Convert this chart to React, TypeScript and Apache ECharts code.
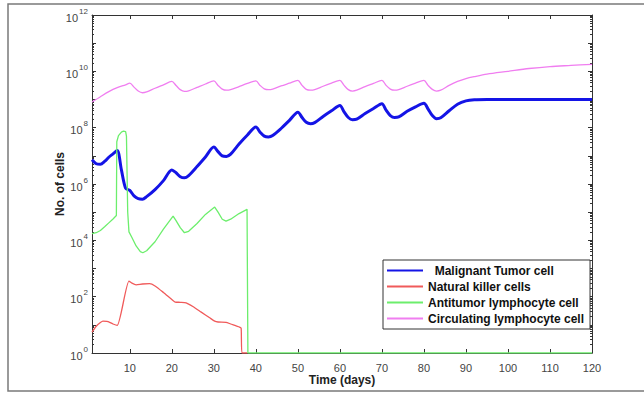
import React, { useEffect, useRef } from 'react';
import * as echarts from 'echarts';

// Series names
const tumorName = 'Malignant Tumor cell';
const nkName = 'Natural killer cells';
const lymphName = 'Antitumor lymphocyte cell';
const circName = 'Circulating lymphocyte cell';

// [day, log10(no. of cells)]
const tumorLog: [number, number][] = [
  [1, 6.86], [2, 6.72], [3, 6.7], [4, 6.8], [5, 6.95], [6, 7.07], [7, 7.19], [8, 6.5], [9, 5.85], [10, 5.77],
  [11, 5.58], [12, 5.48], [13, 5.46], [14, 5.55], [16, 5.8], [18, 6.12], [20, 6.5], [21, 6.4], [22, 6.26], [23, 6.22],
  [24, 6.3], [26, 6.62], [28, 6.96], [30, 7.31], [31, 7.15], [32, 7.0], [33, 6.98], [34, 7.06], [36, 7.42], [38, 7.74],
  [40, 8.02], [41, 7.84], [42, 7.7], [43, 7.67], [44, 7.72], [46, 7.97], [48, 8.26], [50, 8.55], [51, 8.36], [52, 8.19],
  [53, 8.14], [54, 8.18], [56, 8.4], [58, 8.6], [60, 8.79], [61, 8.56], [62, 8.36], [63, 8.28], [64, 8.3], [66, 8.5],
  [68, 8.68], [70, 8.85], [71, 8.62], [72, 8.43], [73, 8.36], [74, 8.38], [76, 8.58], [78, 8.74], [80, 8.87], [81, 8.66],
  [82, 8.43], [83, 8.32], [84, 8.35], [86, 8.6], [88, 8.83], [90, 8.95], [92, 8.99], [95, 9.0], [100, 9.0], [110, 9.0],
  [120, 9.0],
];

const nkLog: [number, number][] = [
  [1, 0.74], [2, 0.95], [3, 1.08], [3.6, 1.13], [4.5, 1.12], [5.2, 1.09], [6, 1.03], [7, 0.98], [9.8, 2.55], [10.5, 2.48],
  [11.5, 2.42], [13, 2.45], [14.7, 2.46], [16, 2.38], [18, 2.15], [20, 1.9], [20.8, 1.81], [22, 1.8], [23.4, 1.78], [25, 1.65],
  [27, 1.45], [29, 1.25], [30.2, 1.13], [31, 1.1], [32.9, 1.09], [34, 1.03], [36.1, 0.92], [36.5, 0.88], [36.7, 0], [38, 0],
];

const lymphLog: [number, number][] = [
  [1, 4.24], [2, 4.27], [3, 4.35], [4, 4.48], [5, 4.62], [6, 4.76], [6.8, 4.88], [6.9, 7.5], [7.3, 7.72], [8, 7.84],
  [8.5, 7.88], [9, 7.86], [9.2, 7.7], [9.5, 5.0], [9.8, 4.3], [10.5, 4.1], [11.5, 3.8], [12.5, 3.6], [13.1, 3.56], [14, 3.63],
  [16, 3.95], [18, 4.4], [20.3, 4.86], [21, 4.7], [22, 4.45], [23, 4.27], [24, 4.32], [26, 4.6], [28, 4.92], [30.2, 5.18],
  [31, 5.0], [32, 4.75], [32.9, 4.68], [34, 4.75], [36, 4.95], [37.9, 5.1], [38.1, 0], [120, 0],
];

const circLog: [number, number][] = [
  [1, 8.91], [3, 9.1], [5, 9.28], [7, 9.42], [9, 9.52], [10, 9.58], [11, 9.44], [12, 9.3], [13, 9.24], [14, 9.27],
  [16, 9.4], [18, 9.52], [20, 9.64], [21, 9.5], [22, 9.35], [23, 9.29], [24, 9.31], [26, 9.43], [28, 9.55], [30, 9.66],
  [31, 9.5], [32, 9.37], [33, 9.33], [34, 9.35], [36, 9.46], [38, 9.57], [40, 9.66], [41, 9.5], [42, 9.38], [43, 9.35],
  [44, 9.37], [46, 9.48], [48, 9.58], [50, 9.68], [51, 9.5], [52, 9.36], [53, 9.33], [54, 9.35], [56, 9.47], [58, 9.58],
  [60, 9.68], [61, 9.5], [62, 9.35], [63, 9.3], [64, 9.33], [66, 9.46], [68, 9.57], [70, 9.68], [71, 9.5], [72, 9.37],
  [73, 9.33], [74, 9.35], [76, 9.47], [78, 9.58], [80, 9.68], [81, 9.5], [82, 9.36], [83, 9.3], [84, 9.33], [86, 9.5],
  [88, 9.64], [90, 9.74], [92, 9.81], [95, 9.9], [100, 10.0], [105, 10.1], [110, 10.17], [115, 10.21], [120, 10.25],
];

// Axis ticks
const xTicks = [10, 20, 30, 40, 50, 60, 70, 80, 90, 100, 110, 120];
const yLabelExps = [0, 2, 4, 6, 8, 10, 12];
const yTickExps = [0, 1, 2, 3, 4, 5, 6, 7, 8, 9, 10, 11, 12];
const yMinorMultipliers = [2, 3, 4, 5, 6, 7, 8, 9];

const FONT = 'Liberation Sans, Arial, Helvetica, sans-serif';

export default function App() {
  const ref = useRef<HTMLDivElement>(null);

  useEffect(() => {
    if (!ref.current) return;
    const chart = echarts.init(ref.current, undefined, { renderer: 'svg' });
    const toPts = (arr: [number, number][]) => arr.map(([d, l]) => [d, Math.pow(10, l)]);
    const yLabelVals = yLabelExps.map((e) => Math.pow(10, e));
    const yTickVals = yTickExps.map((e) => Math.pow(10, e));
    const yMinorVals: number[] = [];
    for (let e = 0; e < 12; e++) {
      for (const m of yMinorMultipliers) yMinorVals.push(m * Math.pow(10, e));
    }
    const axisColor = '#333';
    const labelColor = '#444';

    const baseY = {
      type: 'log' as const,
      logBase: 10,
      min: 1,
      max: 1e12,
      gridIndex: 0,
      splitLine: { show: false },
    };

    const option: any = {
      animation: false,
      backgroundColor: '#fff',
      grid: { left: 92, right: 52, top: 15, bottom: 41, containLabel: false },
      graphic: [
        {
          type: 'rect',
          silent: true,
          z: -10,
          shape: { x: 8, y: 4, width: 660, height: 387 },
          style: { fill: 'none', stroke: '#7a7a7a', lineWidth: 1.5 },
        },
      ],
      legend: {
        orient: 'vertical',
        left: 383,
        top: 260,
        itemWidth: 36,
        itemHeight: 10,
        itemGap: 3,
        padding: [4, 6, 4, 3],
        borderColor: '#333',
        borderWidth: 1,
        borderRadius: 0,
        backgroundColor: '#fff',
        itemStyle: { opacity: 0 },
        formatter: (n: string) => (n === tumorName ? '  ' + n : n),
        textStyle: { fontSize: 12, fontWeight: 'bold', color: '#111', fontFamily: FONT, lineHeight: 13 },
        data: [tumorName, nkName, lymphName, circName],
      },
      xAxis: [
        {
          type: 'value',
          min: 1,
          max: 120,
          position: 'bottom',
          name: 'Time (days)',
          nameLocation: 'middle',
          nameGap: 21,
          nameMoveOverlap: false,
          nameTextStyle: { fontSize: 12, fontWeight: 'bold', color: '#222', fontFamily: FONT },
          axisLine: { show: true, onZero: false, lineStyle: { color: axisColor, width: 1 } },
          axisTick: { show: true, inside: true, length: 4, customValues: xTicks, lineStyle: { color: axisColor } },
          axisLabel: {
            show: true,
            customValues: xTicks,
            margin: 9,
            formatter: (v: number) => '{t|' + v + '}',
            rich: { t: { fontSize: 11, color: labelColor, fontFamily: FONT } },
            color: labelColor,
          },
          splitLine: { show: false },
        },
        {
          type: 'value',
          min: 1,
          max: 120,
          position: 'top',
          axisLine: { show: true, onZero: false, lineStyle: { color: axisColor, width: 1 } },
          axisTick: { show: true, inside: true, length: 4, customValues: xTicks, lineStyle: { color: axisColor } },
          axisLabel: { show: false },
          splitLine: { show: false },
        },
      ],
      yAxis: [
        {
          ...baseY,
          position: 'left',
          name: 'No. of cells',
          nameLocation: 'middle',
          nameGap: 26,
          nameMoveOverlap: false,
          nameTextStyle: { fontSize: 12, fontWeight: 'bold', color: '#222', fontFamily: FONT },
          axisLine: { show: true, lineStyle: { color: axisColor, width: 1 } },
          axisTick: { show: true, inside: true, length: 4, customValues: yTickVals, lineStyle: { color: axisColor } },
          axisLabel: {
            show: true,
            customValues: yLabelVals,
            margin: 4,
            formatter: (v: number) => '{b|10}{s|' + Math.round(Math.log10(v)) + '}',
            rich: {
              b: { fontSize: 11, color: labelColor, fontFamily: FONT, lineHeight: 16, verticalAlign: 'bottom' },
              s: { fontSize: 8, color: labelColor, fontFamily: FONT, lineHeight: 16, verticalAlign: 'top', padding: [0, 0, 0, 1] },
            },
          },
        },
        {
          ...baseY,
          position: 'right',
          axisLine: { show: true, lineStyle: { color: axisColor, width: 1 } },
          axisTick: { show: true, inside: true, length: 4, customValues: yTickVals, lineStyle: { color: axisColor } },
          axisLabel: { show: false },
        },
        {
          ...baseY,
          position: 'left',
          axisLine: { show: false },
          axisTick: { show: true, inside: true, length: 2, customValues: yMinorVals, lineStyle: { color: axisColor } },
          axisLabel: { show: false },
        },
        {
          ...baseY,
          position: 'right',
          axisLine: { show: false },
          axisTick: { show: true, inside: true, length: 2, customValues: yMinorVals, lineStyle: { color: axisColor } },
          axisLabel: { show: false },
        },
      ],
      series: [
        {
          name: tumorName,
          type: 'line',
          symbol: 'none',
          smooth: 0.3,
          data: toPts(tumorLog),
          lineStyle: { color: '#1414e6', width: 3 },
          itemStyle: { color: '#1414e6' },
          z: 2,
        },
        {
          name: nkName,
          type: 'line',
          symbol: 'none',
          smooth: 0.2,
          data: toPts(nkLog),
          lineStyle: { color: '#f05a5a', width: 1.3 },
          itemStyle: { color: '#f05a5a' },
          z: 3,
        },
        {
          name: lymphName,
          type: 'line',
          symbol: 'none',
          data: toPts(lymphLog),
          lineStyle: { color: '#6cee6c', width: 1.3 },
          itemStyle: { color: '#6cee6c' },
          z: 4,
        },
        {
          name: circName,
          type: 'line',
          symbol: 'none',
          smooth: 0.3,
          data: toPts(circLog),
          lineStyle: { color: '#f07ef0', width: 1.3 },
          itemStyle: { color: '#f07ef0' },
          z: 5,
        },
      ],
    };
    chart.setOption(option);
    return () => chart.dispose();
  }, []);

  return (
    <div
      ref={ref}
      style={{ position: 'fixed', left: 0, top: 0, width: 644, height: 394, background: '#fff' }}
    />
  );
}
